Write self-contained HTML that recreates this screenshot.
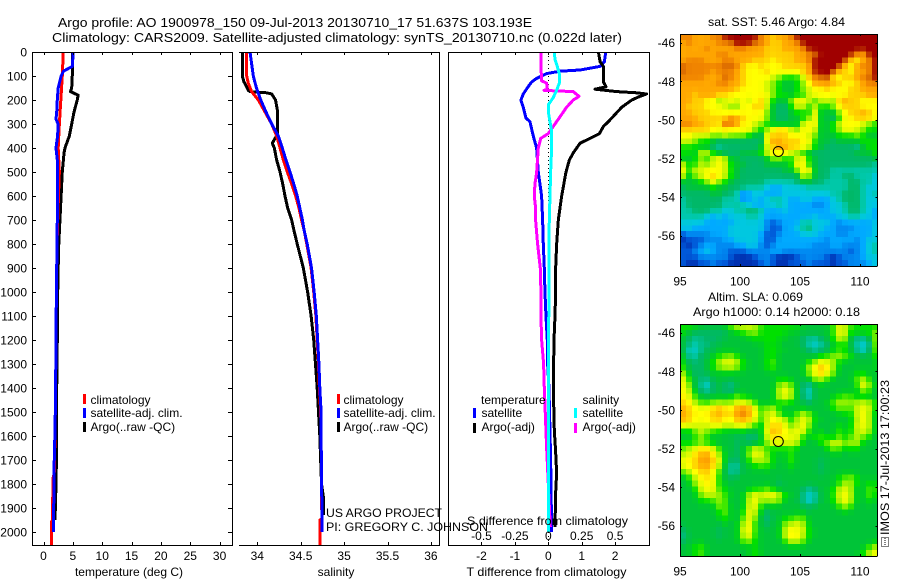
<!DOCTYPE html>
<html>
<head>
<meta charset="utf-8">
<title>Argo profile</title>
<style>
html,body{margin:0;padding:0;background:#fff;}
svg{display:block;}
text{font-family:"Liberation Sans",sans-serif;font-size:12px;fill:#000;}
</style>
</head>
<body>
<svg id="chart" width="900" height="580" viewBox="0 0 900 580" xmlns="http://www.w3.org/2000/svg">
<rect x="0" y="0" width="900" height="580" fill="#fff"/>
<defs>
<clipPath id="clip-map-sst"><rect x="680" y="34" width="197.3" height="232"/></clipPath>
<clipPath id="clip-map-sla"><rect x="680" y="324" width="197.3" height="232"/></clipPath>
<clipPath id="clip-p1"><rect x="32" y="52" width="200" height="493"/></clipPath>
<clipPath id="clip-p2"><rect x="239" y="52" width="201" height="493"/></clipPath>
<clipPath id="clip-p3"><rect x="448" y="52" width="202" height="493"/></clipPath>
</defs>
<text x="58" y="27" style="font-size:13px" textLength="474" lengthAdjust="spacingAndGlyphs">Argo profile: AO 1900978_150 09-Jul-2013 20130710_17 51.637S 103.193E</text>
<text x="52" y="42" style="font-size:13px" textLength="570" lengthAdjust="spacingAndGlyphs">Climatology: CARS2009. Satellite-adjusted climatology: synTS_20130710.nc (0.022d later)</text>
<g id="layer-maps"></g>
<g id="layer-lines"></g>
<g id="layer-axes"></g>

<text x="129" y="576" text-anchor="middle">temperature (deg C)</text>
<text x="336" y="576" text-anchor="middle">salinity</text>
<text x="546.5" y="576" text-anchor="middle" textLength="160" lengthAdjust="spacingAndGlyphs">T difference from climatology</text>
<text x="547.5" y="525" text-anchor="middle" textLength="161" lengthAdjust="spacingAndGlyphs">S difference from climatology</text>

<g>
<rect x="83" y="394" width="3" height="10" fill="#f00"/>
<text x="90.5" y="404">climatology</text>
<rect x="83" y="408" width="3" height="10" fill="#00f"/>
<text x="90.5" y="417">satellite-adj. clim.</text>
<rect x="83" y="422" width="3" height="10" fill="#000"/>
<text x="90.5" y="431">Argo(..raw -QC)</text>
</g>
<g>
<rect x="337" y="394" width="3" height="10" fill="#f00"/>
<text x="343.5" y="404">climatology</text>
<rect x="337" y="408" width="3" height="10" fill="#00f"/>
<text x="343.5" y="417">satellite-adj. clim.</text>
<rect x="337" y="422" width="3" height="10" fill="#000"/>
<text x="343.5" y="431">Argo(..raw -QC)</text>
</g>
<g>
<text x="481" y="404">temperature</text>
<rect x="473" y="408" width="3" height="10" fill="#00f"/>
<text x="481.5" y="417">satellite</text>
<rect x="473" y="423" width="3" height="10" fill="#000"/>
<text x="481.5" y="431">Argo(-adj)</text>
<text x="582.5" y="404">salinity</text>
<rect x="574" y="408" width="3" height="10" fill="#0ff"/>
<text x="582.5" y="417">satellite</text>
<rect x="574" y="423" width="3" height="10" fill="#f0f"/>
<text x="582.5" y="431">Argo(-adj)</text>
</g>
<text x="326" y="517" textLength="116" lengthAdjust="spacingAndGlyphs">US ARGO PROJECT</text>
<text x="326" y="531" textLength="162" lengthAdjust="spacingAndGlyphs">PI: GREGORY C. JOHNSON</text>

<text x="708" y="26" textLength="137" lengthAdjust="spacingAndGlyphs">sat. SST: 5.46 Argo: 4.84</text>
<text x="708" y="301" textLength="95" lengthAdjust="spacingAndGlyphs">Altim. SLA: 0.069</text>
<text x="693" y="316" textLength="167" lengthAdjust="spacingAndGlyphs">Argo h1000: 0.14 h2000: 0.18</text>

<text transform="translate(889,535) rotate(-90)" textLength="155" lengthAdjust="spacingAndGlyphs">IMOS 17-Jul-2013 17:00:23</text>
<g fill="none" stroke="#000" stroke-width="1" stroke-dasharray="1 1" shape-rendering="crispEdges">
<rect x="881.5" y="537.5" width="7" height="9"/>
<line x1="885" y1="538" x2="885" y2="546"/>
</g>
</svg>

<script>
/* ---------- profile data (depth in m, temperature deg C, salinity psu) ---------- */
const tempTicks = [0, 5, 10, 15, 20, 25, 30];
const salTicks = [34, 34.5, 35, 35.5, 36];
const salTickLabels = ['34', '34.5', '35', '35.5', '36'];
const depthTicks = [0,100,200,300,400,500,600,700,800,900,1000,1100,1200,1300,1400,1500,1600,1700,1800,1900,2000];
const tDiffTicks = [-2, -1, 0, 1, 2];
const sDiffTicks = [-0.5, -0.25, 0, 0.25, 0.5];
const sDiffTickLabels = ['-0.5', '-0.25', '0', '0.25', '0.5'];
const lonTicks = [95, 100, 105, 110];
const latTicks = [-46, -48, -50, -52, -54, -56];

const climTempDepth = [0,100,200,300,400,500,600,800,1000,1200,1400,1600,1750,1780,1950,1955,2055];
const climTemp = [3.37,3.2,2.95,2.7,2.5,2.7,2.55,2.3,2.2,2.12,2.07,1.95,1.85,1.6,1.55,1.4,1.4];
const satTempDepth = [0,60,80,100,150,200,250,280,300,350,400,450,500,600,800,1000,1200,1400,1600,1650,1800,2000];
const satTemp = [5.08,4.9,3.4,3.0,2.5,2.35,2.25,2.13,2.5,2.4,2.13,2.35,2.35,2.4,2.3,2.2,2.12,2.07,1.95,1.85,1.8,1.67];
const argoTempDepth = [0,60,100,150,165,180,200,250,300,350,400,420,500,600,700,800,900,1000,1100,1200,1300,1400,1500,1600,1700,1800,1950];
const argoTemp = [4.9,4.9,4.9,4.8,4.6,5.9,5.75,5.2,4.8,4.4,3.66,3.5,3.2,3.0,2.8,2.6,2.5,2.42,2.38,2.35,2.3,2.25,2.2,2.2,2.2,2.13,1.96];

const climSalDepth = [0,100,130,165,200,250,300,350,400,450,500,550,600,650,700,740,800,900,1000,1100,1200,1300,1400,1500,1600,1700,1800,1900,1945,1950,2055];
const climSal = [33.878,33.878,33.896,33.935,34.012,34.089,34.166,34.223,34.262,34.30,34.346,34.396,34.442,34.48,34.51,34.538,34.57,34.62,34.65,34.675,34.69,34.705,34.715,34.73,34.735,34.738,34.74,34.742,34.745,34.72,34.72];
const satSalDepth = [0,50,100,150,200,250,300,350,400,450,500,550,600,650,700,740,800,900,1000,1100,1200,1300,1400,1500,1600,1700,1800,1900,2000];
const satSal = [33.916,33.935,33.954,33.99,34.04,34.10,34.166,34.242,34.288,34.33,34.377,34.42,34.46,34.49,34.52,34.538,34.575,34.625,34.655,34.68,34.695,34.71,34.72,34.735,34.735,34.738,34.74,34.745,34.745];
const argoSalDepth = [0,100,125,150,160,165,170,175,200,250,300,345,360,380,400,450,500,550,600,650,700,740,800,900,1000,1100,1200,1300,1400,1500,1600,1700,1800,1850,1930];
const argoSal = [33.827,33.827,33.847,33.885,33.896,33.916,34.108,34.166,34.21,34.235,34.235,34.235,34.204,34.173,34.196,34.223,34.262,34.293,34.319,34.35,34.396,34.42,34.46,34.53,34.58,34.62,34.65,34.67,34.69,34.705,34.72,34.73,34.74,34.76,34.76];

const satTDiffDepth = [0,40,60,75,80,90,110,125,150,175,200,230,275,290,350,400,500,600,700,800,900,1000,1100,1200,1300,1400,1700,2000];
const satTDiff = [1.72,1.68,1.55,0.95,0.35,-0.05,-0.35,-0.5,-0.63,-0.75,-0.82,-0.75,-0.67,-0.55,-0.45,-0.35,-0.3,-0.2,-0.17,-0.15,-0.12,-0.1,-0.07,-0.03,-0.02,0.02,0.07,0.1];
const argoTDiffDepth = [0,40,60,100,125,145,155,165,170,175,185,200,230,260,290,310,340,360,380,420,450,500,600,700,800,900,1000,1100,1200,1300,1400,1575,1667,1754,1837,1979];
const argoTDiff = [1.5,1.55,1.65,1.65,1.65,1.73,1.4,2.05,2.64,2.94,2.74,2.5,2.2,2.0,1.8,1.65,1.53,1.25,0.95,0.75,0.63,0.53,0.4,0.3,0.25,0.22,0.22,0.2,0.17,0.16,0.15,0.18,0.22,0.25,0.22,0.2];
const argoSDiffDepth = [0,60,120,130,155,160,165,185,200,230,260,300,340,360,400,500,550,600,650,700,800,900,1000,1100,1200,1300,1367,1650,1980];
const argoSDiff = [-0.055,-0.055,-0.05,-0.0125,-0.0075,-0.032,0.187,0.23,0.187,0.137,0.1,0.05,0,-0.057,-0.075,-0.087,-0.1,-0.105,-0.095,-0.095,-0.08,-0.06,-0.055,-0.055,-0.05,-0.035,-0.032,-0.0125,0.015];
const satSDiffDepth = [0,30,60,90,130,160,190,220,250,290,330,400,500,600,700,800,1000,1200,1400,1700,2000];
const satSDiff = [0.045,0.05,0.067,0.082,0.082,0.062,0.037,0,0,0.0125,0.025,0.025,0.0175,0.0125,0.0075,0.005,0.005,0.002,0,0.001,0];

/* ---------- map data: colour level per cell, 33 lon columns x 40 lat rows ---------- */
const mapLevelColors = ['#0030b0','#0058d8','#0088f0','#00aaff','#00c8e0','#00c8a8','#00b868','#00c438','#00e000','#80f000','#d0f800','#ffff00','#ffd000','#ffa800','#f08400','#d86800','#a00000'];
const sstRows = [
"eedddee gggggg edcdde gggggggggggggg",
"deddddee fgggf edccdde ggggggggggggg",
"ddddeddddee dddcccddde gggggggggggg",
"ddddddeedddd ddcccccdd efgggggg ed gg",
"deeedddeeddd cccbcccd de gggggg cbdeg",
"feeeeeeffe cbbcbbbccccd ggggg cbdeeg",
"feeeedeeed cbbbcbbbbbcd gggg ccbddeg",
"eeeedddfed cbbbba9888ac efg bbccdefg",
"ddddddeedd cbbba987789b ddddcbbcdee",
"dddddddddc bbbba987789a bbcbbbccddd",
"ddcdddccbb bbbbb988788a bbbbbbcccdd",
"ddccbb9aba babca8779bba 8aa9cdccbbb",
"dcccbbba99 bbcca7668aa8 a889bcccbbb",
"ddcccbbbbb bbbb97667888 b7779bccdcb",
"dddccccced cbbb97667789 b7768bbcccb",
"eeddccbfed bba9877777ab b778abbba98",
"cccccbbbbb bb989bcca9bb a7789bba988",
"bbaaa99a99 9876bcccbbba 97778889877",
"aa98876666 6666bddcccbb 87767777888",
"8887765666 6667acddccba 87666665788",
"887aa87666777 8 abbba9 8766666667778",
"77898aba7766667 9988 ab 876666666667",
"a88a9aba 8776667 777 8 bb 876666666665",
"b8aabbba 876666666 77 9bb 766 55555555",
"a79abcba 87 6666666666 a97 6655665554",
"77789b98 766666 55555 67766 555566554",
"67777877 666555 4334444 5555555 66544",
"6666677665 2344333 44444444 55666545",
"5666666555 2343455 43344333 45666544",
"5666666555 5433445 43333223 44566544",
"5566655445 5665333 43333333 44566543",
"5555434344 4554333 33333 43334455443",
"4444333334 4444212 3335544432333334",
"4433333344 4444211 3345644332223334",
"1222233344 4443112 3334443332233334",
"0111222334 4443113 3333333233332344",
"1012332223 3442123 3333322233222345",
"1123432211 1222233 2222222222212345",
"1112222210 0012210 0012222101222344",
"1001121100 0001210 0111211101122234"
];
const slaRows = [
"88877777 9aaaa 8888888 777778 ba 88888",
"87666666 7789988888 7777777 8ba88889",
"76566667 7777888887 7765567 8aa6556a",
"76556677 77777788 7777 6545678875459",
"74466777 777777 888 7777 6566 8887 545a",
"85567789 98777788 7777777 889a987778",
"866678aa ba877789 77777 89bb98 777777",
"8766789a a9877789 77777 abdba 777777 8",
"a7667777 7777777777777 9bcb9 7778877",
"b8765777 77777777 88 7777 9a8 7777 9a87",
"b9754676 57777777 9a97 657777777 8ba7",
"ba765676 57777777 aba7 647777777 7a87",
"bb877777 89877777 aba7 64 7777 8997777",
"cba88999 9aaa8777 8887 767779a99aaa8",
"dcbbbcdc bdedb89a 8777 777778998aba8",
"dcbbbcdc beedb8ab 8779 a97777788aba7",
"dcbbbccb bcdcb8ab ba89 ba8777777aba7",
"bbaaabba abba87ac cb8a b97777878aba7",
"779a9887 777777bd cbab b87777978aaa7",
"778a8777 767567ac bbba 878a77988a987",
"88888777 7676679b baab 7777aba9aa777",
"99bccb87 7679ba87 8887 7777799788777",
"9bbddba7 7679ba98 7797 7777777777777",
"bbcdecb7 6678aa98 7797 7776777777777",
"bbcddca7 55778897 7787 7776777777777",
"8abccb87 55777777 7777 7776777777777",
"78abcb87 67777777 7777 7777778998777",
"779bbb87 77777777 6777 7777778 9a8788",
"778abb88 77778898 6777 656778ab97798",
"7779aa99 777ababb b877 645778aba7798",
"777888a8 777ab99a 9777 545778aba7787",
"77777799 777ab877 7777 7677778a87777",
"77777789 778ba767 7777 7777777777777",
"77777779 778b9757 7889 9777777777777",
"77777777 77ab8767 79aa a777777777777",
"67777767 77ac8777 7abb a877777777777",
"57777767 77ab8777 7acb a877777777777",
"67777777 77998777 78aa 9777777777777",
"77897777 77778777 7777 777777777778a",
"77897777 77779777 7777 77777777778ab"
];
const floatLon = 103.193;
const floatLat = -51.637;
const mapLonStart = 95;
const mapLonStep = 0.5;
const mapLatStart = -45.56;
const mapLatStep = -0.3;

/* ---------- axis functions ---------- */
const NS = 'http://www.w3.org/2000/svg';
const depthY = d => 52 + d * 0.24;
const tempX = t => 43.5 + t * 5.87;
const salX = s => 257.3 + (s - 34) * 86.8;
const tDiffX = t => 548.3 + t * 33.4;
const sDiffX = s => 548.3 + s * 133.6;
const lonX = lon => 680 + (lon - 95) * 12;
const sstLatY = lat => 42.7 + (-46 - lat) * 19.3;
const slaLatY = lat => 332.7 + (-46 - lat) * 19.3;

const layerMaps = document.getElementById('layer-maps');
const layerLines = document.getElementById('layer-lines');
const layerAxes = document.getElementById('layer-axes');

function mk(tag, attrs, parent) {
  const el = document.createElementNS(NS, tag);
  for (const k in attrs) el.setAttribute(k, attrs[k]);
  parent.appendChild(el);
  return el;
}

function drawLine(depths, values, xFn, color, name, clip) {
  const pts = depths.map((d, i) => xFn(values[i]).toFixed(2) + ',' + depthY(d).toFixed(2)).join(' ');
  const el = mk('polyline', {points: pts, fill: 'none', stroke: color, 'stroke-width': 3, 'stroke-linejoin': 'round', 'shape-rendering': 'crispEdges', 'clip-path': 'url(#' + clip + ')'}, layerLines);
  
  
}

function axisLine(x1, y1, x2, y2, name) {
  const el = mk('line', {x1: x1, y1: y1, x2: x2, y2: y2, stroke: '#000', 'stroke-width': 1, 'shape-rendering': 'crispEdges'}, layerAxes);
  
  
}

function label(x, y, str, anchor, name) {
  const el = mk('text', {x: x, y: y, 'text-anchor': anchor}, layerAxes);
  el.textContent = str;
  
  
}

/* continuous colour between the palette's levels */
function levelColor(v) {
  const i = Math.max(0, Math.min(mapLevelColors.length - 2, Math.floor(v)));
  const f = Math.max(0, Math.min(1, v - i));
  const a = mapLevelColors[i], b = mapLevelColors[i + 1];
  const ch = p => Math.round(parseInt(a.substr(p, 2), 16) * (1 - f) + parseInt(b.substr(p, 2), 16) * f);
  return 'rgb(' + ch(1) + ',' + ch(3) + ',' + ch(5) + ')';
}

/* the field is lightly blended with its neighbours, as the source grid is smooth */
function drawMap(rows, latFn, clip, name, selfWeight) {
  const grid = rows.map(row => row.replace(/ /g, '').split('').map(ch => parseInt(ch, 36)));
  const g = mk('g', {'clip-path': 'url(#' + clip + ')', 'shape-rendering': 'crispEdges'}, layerMaps);
  
  
  grid.forEach((cells, r) => {
    cells.forEach((val, c) => {
      let sum = val * selfWeight, wt = selfWeight;
      [[r - 1, c], [r + 1, c], [r, c - 1], [r, c + 1]].forEach(n => {
        if (grid[n[0]] !== undefined && grid[n[0]][n[1]] !== undefined) { sum += grid[n[0]][n[1]]; wt += 1; }
      });
      const lon = mapLonStart + c * mapLonStep;
      const lat = mapLatStart + r * mapLatStep;
      const x0 = lonX(lon), x1 = lonX(lon + mapLonStep);
      const y0 = latFn(lat), y1 = latFn(lat + mapLatStep);
      const cell = mk('rect', {x: x0, y: y0, width: x1 - x0 + 0.5, height: y1 - y0 + 0.5, fill: levelColor(sum / wt)}, g);
      
      
    });
  });
}

function drawMapFrame(top, latFn, name) {
  const left = 680, right = 877.3, bottom = top + 232;
  axisLine(left, top + 0.5, right, top + 0.5, name + '-top-edge');
  axisLine(left, bottom + 0.5, right, bottom + 0.5, name + '-bottom-edge');
  axisLine(left + 0.5, top, left + 0.5, bottom, name + '-left-edge');
  axisLine(right + 0.2, top, right + 0.2, bottom, name + '-right-edge');
  lonTicks.forEach(lon => {
    const x = Math.round(lonX(lon)) + 0.5;
    axisLine(x, top, x, top + 2, name + '-top-tick');
    axisLine(x, bottom, x, bottom - 2, name + '-bottom-tick');
    label(lonX(lon), bottom + 19.5, String(lon), 'middle', name + '-lon-label');
  });
  latTicks.forEach(lat => {
    const y = Math.round(latFn(lat)) + 0.5;
    axisLine(left, y, left + 2, y, name + '-left-tick');
    axisLine(right, y, right - 2, y, name + '-right-tick');
    label(675, latFn(lat) + 4.5, String(lat), 'end', name + '-lat-label');
  });
  const ring = mk('circle', {cx: lonX(floatLon), cy: latFn(floatLat), r: 5, fill: 'none', stroke: '#000', 'stroke-width': 1}, layerAxes);
  
  
}

/* maps */
drawMap(sstRows, sstLatY, 'clip-map-sst', 'sst-map', 6);
drawMap(slaRows, slaLatY, 'clip-map-sla', 'sla-map', 2);

/* dotted zero line for difference panel */
const zeroLine = mk('line', {x1: tDiffX(0), y1: depthY(0), x2: tDiffX(0), y2: 545, stroke: '#000', 'stroke-width': 1, 'stroke-dasharray': '1 3', 'shape-rendering': 'crispEdges'}, layerLines);



/* profile lines */
drawLine(argoTempDepth, argoTemp, tempX, '#000', 'argo-temperature-line', 'clip-p1');
drawLine(climTempDepth, climTemp, tempX, '#f00', 'climatology-temperature-line', 'clip-p1');
drawLine(satTempDepth, satTemp, tempX, '#00f', 'satellite-temperature-line', 'clip-p1');

drawLine(argoSalDepth, argoSal, salX, '#000', 'argo-salinity-line', 'clip-p2');
drawLine(climSalDepth, climSal, salX, '#f00', 'climatology-salinity-line', 'clip-p2');
drawLine(satSalDepth, satSal, salX, '#00f', 'satellite-salinity-line', 'clip-p2');

drawLine(satTDiffDepth, satTDiff, tDiffX, '#00f', 'satellite-t-difference-line', 'clip-p3');
drawLine(argoTDiffDepth, argoTDiff, tDiffX, '#000', 'argo-t-difference-line', 'clip-p3');
drawLine(argoSDiffDepth, argoSDiff, sDiffX, '#f0f', 'argo-s-difference-line', 'clip-p3');
drawLine(satSDiffDepth, satSDiff, sDiffX, '#0ff', 'satellite-s-difference-line', 'clip-p3');

/* panel frames */
axisLine(32, 52.5, 232, 52.5, 'temperature-panel-top-edge');
axisLine(32, 545.5, 232, 545.5, 'temperature-panel-bottom-edge');
axisLine(32.5, 52, 32.5, 545, 'temperature-panel-left-edge');
axisLine(232.5, 52, 232.5, 546, 'temperature-panel-right-edge');
axisLine(239, 52.5, 440, 52.5, 'salinity-panel-top-edge');
axisLine(239, 545.5, 440, 545.5, 'salinity-panel-bottom-edge');
axisLine(439.5, 52, 439.5, 546, 'salinity-panel-right-edge');
axisLine(448, 52.5, 650, 52.5, 'difference-panel-top-edge');
axisLine(448, 545.5, 650, 545.5, 'difference-panel-bottom-edge');
axisLine(448.5, 52, 448.5, 546, 'difference-panel-left-edge');
axisLine(649.5, 52, 649.5, 546, 'difference-panel-right-edge');

/* panel ticks and labels */
depthTicks.forEach(d => {
  const y = Math.round(depthY(d)) + 0.5;
  axisLine(32, y, 36, y, 'depth-left-tick');
  axisLine(232, y, 228, y, 'depth-right-tick');
  label(27, depthY(d) + 4.5, String(d), 'end', 'depth-tick-label');
});
tempTicks.forEach(t => {
  const x = Math.round(tempX(t)) + 0.5;
  axisLine(x, 52, x, 55, 'temperature-top-tick');
  axisLine(x, 545, x, 542, 'temperature-bottom-tick');
  label(tempX(t), 560, String(t), 'middle', 'temperature-tick-label');
});
salTicks.forEach((s, i) => {
  const x = Math.round(salX(s)) + 0.5;
  axisLine(x, 52, x, 55, 'salinity-top-tick');
  axisLine(x, 545, x, 542, 'salinity-bottom-tick');
  label(salX(s), 560, salTickLabels[i], 'middle', 'salinity-tick-label');
});
tDiffTicks.forEach(t => {
  const x = Math.round(tDiffX(t)) + 0.5;
  axisLine(x, 52, x, 55, 'difference-top-tick');
  axisLine(x, 545, x, 542, 'difference-bottom-tick');
  label(tDiffX(t), 560, String(t), 'middle', 't-difference-tick-label');
});
sDiffTicks.forEach((s, i) => {
  label(sDiffX(s), 540, sDiffTickLabels[i], 'middle', 's-difference-tick-label');
});

/* map frames */
drawMapFrame(34, sstLatY, 'sst-map');
drawMapFrame(324, slaLatY, 'sla-map');
</script>
</body>
</html>
